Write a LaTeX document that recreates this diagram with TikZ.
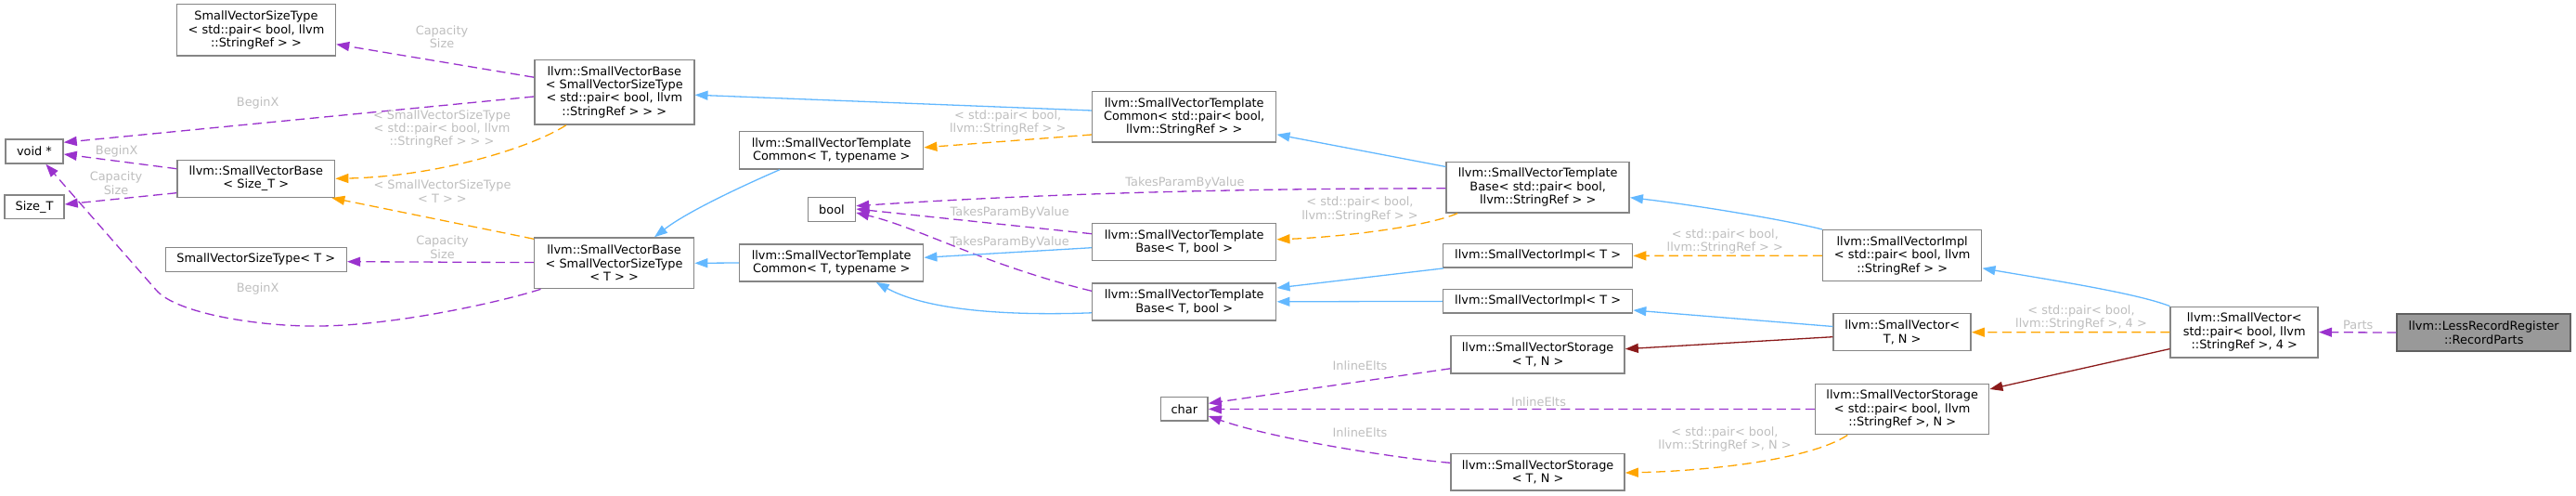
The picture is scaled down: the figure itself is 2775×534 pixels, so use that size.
\documentclass[tikz,border=0pt]{standalone}
\usepackage{fontspec}
\setmainfont{DejaVu Sans}
\usetikzlibrary{arrows.meta,calc}
\definecolor{ePurple}{HTML}{9A32CD}
\definecolor{eOrange}{HTML}{FFA500}
\definecolor{eBlue}{HTML}{63B8FF}
\definecolor{eRed}{HTML}{8B1A1A}
\definecolor{lblGray}{HTML}{BEBEBE}
\definecolor{boxGray}{HTML}{858585}
\definecolor{rootFill}{HTML}{999999}
\begin{document}
\begin{tikzpicture}[x=1pt,y=-1pt,
 cls/.style={draw=boxGray, line width=1.5pt, fill=white, inner sep=0pt, align=center, font=\fontsize{12.9}{14.4}\selectfont, text=black},
 lbl/.style={inner sep=0pt, align=center, font=\fontsize{12.9}{14.4}\selectfont, text=lblGray},
 arrowend/.style={-{Triangle[length=14pt,width=10pt]}},
 eusage/.style={arrowend, ePurple, line width=1.3pt, dash pattern=on 10pt off 5.5pt},
 etmpl/.style={arrowend, eOrange, line width=1.3pt, dash pattern=on 10pt off 5.5pt},
 einh/.style={arrowend, eBlue, line width=1.3pt},
 epriv/.style={arrowend, eRed, line width=1.3pt},
]
\useasboundingbox (0,0) rectangle (2775,534);

% nodes
\node[cls, minimum width=171pt, minimum height=55.5pt] (svstpair) at (276,32.5) {SmallVectorSizeType\\< std::pair< bool, llvm\\::StringRef > >};
\node[cls, minimum width=62pt, minimum height=26pt] (voidp) at (37,163) {void *};
\node[cls, minimum width=64pt, minimum height=25.5pt] (sizet) at (37,223) {Size\_T};
\node[cls, minimum width=169.6pt, minimum height=40pt] (svbsize) at (275.8,192.3) {llvm::SmallVectorBase\\< Size\_T >};
\node[cls, minimum width=195pt, minimum height=26pt] (svstT) at (275.8,279.3) {SmallVectorSizeType< T >};
\node[cls, minimum width=172pt, minimum height=69.7pt] (svbpair) at (661.8,99.2) {llvm::SmallVectorBase\\< SmallVectorSizeType\\< std::pair< bool, llvm\\::StringRef > > >};
\node[cls, minimum width=172pt, minimum height=54.6pt] (svbT) at (661.6,283.3) {llvm::SmallVectorBase\\< SmallVectorSizeType\\< T > >};
\node[cls, minimum width=198pt, minimum height=40.3pt] (svtcU) at (895.7,161.8) {llvm::SmallVectorTemplate\\Common< T, typename >};
\node[cls, minimum width=51pt, minimum height=26pt] (boolN) at (896,225.7) {bool};
\node[cls, minimum width=198pt, minimum height=40.2pt] (svtcL) at (895.7,283) {llvm::SmallVectorTemplate\\Common< T, typename >};
\node[cls, minimum width=198pt, minimum height=54.5pt] (svtcpair) at (1275.7,126) {llvm::SmallVectorTemplate\\Common< std::pair< bool,\\llvm::StringRef > >};
\node[cls, minimum width=198pt, minimum height=40pt] (svtbU) at (1275.7,260.5) {llvm::SmallVectorTemplate\\Base< T, bool >};
\node[cls, minimum width=198pt, minimum height=40pt] (svtbL) at (1275.7,324.8) {llvm::SmallVectorTemplate\\Base< T, bool >};
\node[cls, minimum width=197pt, minimum height=54.2pt] (svtbpair) at (1656.7,201.8) {llvm::SmallVectorTemplate\\Base< std::pair< bool,\\llvm::StringRef > >};
\node[cls, minimum width=204pt, minimum height=25.5pt] (sviU) at (1656.6,275.4) {llvm::SmallVectorImpl< T >};
\node[cls, minimum width=204pt, minimum height=25.5pt] (sviL) at (1656.6,324.4) {llvm::SmallVectorImpl< T >};
\node[cls, minimum width=187pt, minimum height=40.2pt] (svsU) at (1656.6,381.8) {llvm::SmallVectorStorage\\< T, N >};
\node[cls, minimum width=50.5pt, minimum height=25.5pt] (charN) at (1275.8,440.4) {char};
\node[cls, minimum width=187pt, minimum height=39.5pt] (svsL) at (1656.6,508.3) {llvm::SmallVectorStorage\\< T, N >};
\node[cls, minimum width=171pt, minimum height=55pt] (svipair) at (2049.2,275.2) {llvm::SmallVectorImpl\\< std::pair< bool, llvm\\::StringRef > >};
\node[cls, minimum width=148pt, minimum height=40pt] (svTN) at (2049.2,357.7) {llvm::SmallVector<\\T, N >};
\node[cls, minimum width=187pt, minimum height=54.4pt] (svspair) at (2049.2,440.5) {llvm::SmallVectorStorage\\< std::pair< bool, llvm\\::StringRef >, N >};
\node[cls, minimum width=159pt, minimum height=54.5pt] (svpair4) at (2417.7,357.6) {llvm::SmallVector<\\std::pair< bool, llvm\\::StringRef >, 4 >};
\node[cls, fill=rootFill, draw=gray!75!black, minimum width=187pt, minimum height=40pt] (root) at (2675.7,358.1) {llvm::LessRecordRegister\\::RecordParts};

% edges
\draw[eusage] ($(svbpair.west)+(0,-16)$) -- ($(svstpair.east)+(0,15.2)$);
\draw[eusage] ($(svbpair.west)+(0,4.8)$) -- ($(voidp.east)+(0,-9.7)$);
\draw[eusage] ($(svbsize.west)+(0,-10.6)$) -- ($(voidp.east)+(0,3)$);
\draw[eusage] ($(svbsize.west)+(0,15.4)$) -- ($(sizet.east)+(0,-3)$);
\draw[eusage] ($(svbT.west)+(0,-0.7)$) -- ($(svstT.east)+(0,2.4)$);
\draw[eusage] ($(svbT.south west)+(7.6,0)$) .. controls (540,325) and (420,352) .. (336,351) .. controls (280,351) and (190,338) .. (168,312) -- ($(voidp.south)+(12.4,0)$);
\draw[etmpl] ($(svbpair.south)+(-52,0)$) .. controls (570,160) and (470,190) .. (svbsize.east);
\draw[etmpl] ($(svbT.north west)+(0,2)$) -- ($(svbsize.south east)+(-4,0)$);
\draw[einh] ($(svtcpair.west)+(0,-7)$) -- ($(svbpair.east)+(0,3)$);
\draw[einh] ($(svtcU.south)+(-55.7,0)$) .. controls (800,200) and (740,228) .. ($(svbT.north)+(43.4,0)$);
\draw[einh] (svtcL.west) -- (svbT.east);
\draw[etmpl] ($(svtcpair.west)+(0,19)$) -- ($(svtcU.east)+(0,-3)$);
\draw[eusage] ($(svtbpair.west)+(0,1)$) .. controls (1300,203) and (1100,210) .. ($(boolN.east)+(0,-4)$);
\draw[eusage] ($(svtbU.west)+(0,-8.8)$) -- ($(boolN.east)+(0,-0.7)$);
\draw[eusage] ($(svtbL.west)+(0,-11.5)$) .. controls (1060,285) and (990,245) .. ($(boolN.east)+(0,3.3)$);
\draw[einh] ($(svtbU.west)+(0,6.2)$) -- ($(svtcL.east)+(0,-5.7)$);
\draw[einh] ($(svtbL.west)+(0,12)$) .. controls (1090,340) and (1000,335) .. ($(svtcL.south)+(48,0)$);
\draw[einh] ($(svtbpair.west)+(0,-22.3)$) -- ($(svtcpair.east)+(0,18.8)$);
\draw[etmpl] ($(svtbpair.south)+(-86.7,0)$) .. controls (1540,243) and (1450,255) .. ($(svtbU.east)+(0,-2.7)$);
\draw[einh] ($(sviU.south west)+(1,0)$) -- ($(svtbL.east)+(0,-14.8)$);
\draw[einh] (sviL.west) -- (svtbL.east);
\draw[etmpl] (svipair.west) -- (sviU.east);
\draw[einh] (svipair.north west) .. controls (1920,236) and (1820,220) .. ($(svtbpair.east)+(0,10.9)$);
\draw[einh] ($(svTN.west)+(0,-6.2)$) -- ($(sviL.east)+(0,9.6)$);
\draw[epriv] ($(svTN.west)+(0,5)$) -- ($(svsU.east)+(0,-6.1)$);
\draw[eusage] ($(svsU.west)+(0,15)$) -- ($(charN.east)+(0,-6.1)$);
\draw[eusage] (svspair.west) -- (charN.east);
\draw[eusage] ($(svsL.west)+(0,-10)$) .. controls (1520,495) and (1380,475) .. ($(charN.east)+(0,7.6)$);
\draw[etmpl] ($(svspair.south)+(-59,0)$) .. controls (1950,495) and (1840,507) .. ($(svsL.east)+(0,0.7)$);
\draw[einh] (svpair4.north west) .. controls (2300,315) and (2200,300) .. ($(svipair.east)+(0,13.6)$);
\draw[etmpl] (svpair4.west) -- (svTN.east);
\draw[epriv] ($(svpair4.west)+(0,18)$) -- ($(svspair.north east)+(0,6.4)$);
\draw[eusage] (root.west) -- (svpair4.east);

% edge labels
\node[lbl] (l1) at (476,39.7) {Capacity\\Size};
\node[lbl] (l2) at (277.7,111) {BeginX};
\node[lbl] (l3) at (125.7,162.7) {BeginX};
\node[lbl] (l4) at (125,197) {Capacity\\Size};
\node[lbl] (l5) at (476.5,266) {Capacity\\Size};
\node[lbl] (l6) at (277.6,311) {BeginX};
\node[lbl] (l7) at (476,139) {< SmallVectorSizeType\\< std::pair< bool, llvm\\::StringRef > > >};
\node[lbl] (l8) at (476.5,206) {< SmallVectorSizeType\\< T > >};
\node[lbl] (l12) at (1085.7,131.7) {< std::pair< bool,\\llvm::StringRef > >};
\node[lbl] (l13) at (1276.5,197) {TakesParamByValue};
\node[lbl] (l14) at (1087.7,229) {TakesParamByValue};
\node[lbl] (l15) at (1087.7,260.7) {TakesParamByValue};
\node[lbl] (l19) at (1465,225.3) {< std::pair< bool,\\llvm::StringRef > >};
\node[lbl] (l22) at (1858.3,259.7) {< std::pair< bool,\\llvm::StringRef > >};
\node[lbl] (l26) at (1465,394) {InlineElts};
\node[lbl] (l27) at (1657.6,432.6) {InlineElts};
\node[lbl] (l28) at (1465,465.6) {InlineElts};
\node[lbl] (l29) at (1858,473.2) {< std::pair< bool,\\llvm::StringRef >, N >};
\node[lbl] (l31) at (2242,342) {< std::pair< bool,\\llvm::StringRef >, 4 >};
\node[lbl] (l33) at (2540.3,349.8) {Parts};
\end{tikzpicture}
\end{document}
